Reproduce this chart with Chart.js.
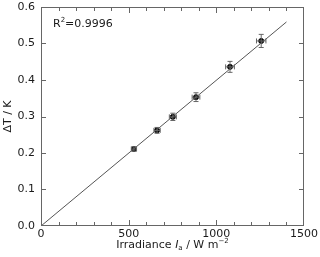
<!DOCTYPE html>
<html>
<head>
<meta charset="utf-8">
<script src="https://cdn.jsdelivr.net/npm/chart.js@4"></script>
<style>
  body { margin: 0; background: #fff; }
  #wrap { width: 320px; height: 257px; }
</style>
</head>
<body>
<div id="wrap"><canvas id="myChart"></canvas></div>
<script>
// measured points
const irradiance = [530, 662, 752, 884, 1078, 1256];
const deltaT = [0.211, 0.262, 0.299, 0.353, 0.436, 0.507];
const xErr = [15, 18, 20, 22, 25, 27];
const yErr = [0.006, 0.008, 0.010, 0.012, 0.015, 0.018];

// linear fit through origin
const fitX = [0, 1400];
const fitY = [0, 0.559];

const xTicks = [0, 500, 1000, 1500];
const yTicks = [0.0, 0.1, 0.2, 0.3, 0.4, 0.5, 0.6];
const r2Label = 'R²=0.9996';

const FONT = '"DejaVu Sans", sans-serif';
const TXT = '#1a1a1a';
const AX = '#666666';

const points = irradiance.map((x, i) => ({ x: x, y: deltaT[i] }));
const fitLine = fitX.map((x, i) => ({ x: x, y: fitY[i] }));

const errorBars = {
  id: 'errorBars',
  afterDatasetsDraw(chart) {
    const ctx = chart.ctx, xs = chart.scales.x, ys = chart.scales.y;
    ctx.save();
    ctx.strokeStyle = '#666';
    ctx.lineWidth = 1;
    points.forEach((p, i) => {
      const px = xs.getPixelForValue(p.x), py = ys.getPixelForValue(p.y);
      const x1 = xs.getPixelForValue(p.x - xErr[i]), x2 = xs.getPixelForValue(p.x + xErr[i]);
      const y1 = ys.getPixelForValue(p.y - yErr[i]), y2 = ys.getPixelForValue(p.y + yErr[i]);
      ctx.beginPath();
      ctx.moveTo(x1, py); ctx.lineTo(x2, py);
      ctx.moveTo(x1, py - 2.5); ctx.lineTo(x1, py + 2.5);
      ctx.moveTo(x2, py - 2.5); ctx.lineTo(x2, py + 2.5);
      ctx.moveTo(px, y1); ctx.lineTo(px, y2);
      ctx.moveTo(px - 2.5, y1); ctx.lineTo(px + 2.5, y1);
      ctx.moveTo(px - 2.5, y2); ctx.lineTo(px + 2.5, y2);
      ctx.stroke();
    });
    ctx.restore();
  }
};

const frame = {
  id: 'frame',
  afterDraw(chart) {
    const ctx = chart.ctx, a = chart.chartArea;
    const xs = chart.scales.x, ys = chart.scales.y;
    const L = Math.round(a.left), R = Math.round(a.right) - 1;
    const T = Math.round(a.top), B = Math.round(a.bottom) - 1;
    ctx.save();
    // box and inward ticks
    ctx.fillStyle = AX;
    ctx.fillRect(L, T, R - L + 1, 1);
    ctx.fillRect(L, B, R - L + 1, 1);
    ctx.fillRect(L, T, 1, B - T + 1);
    ctx.fillRect(R, T, 1, B - T + 1);
    for (let v = 0; v <= 1500; v += 100) {
      const px = Math.min(Math.round(xs.getPixelForValue(v)), R);
      const len = v % 500 === 0 ? 5 : 3;
      ctx.fillRect(px, B - len, 1, len);
      ctx.fillRect(px, T, 1, len + 1);
    }
    yTicks.forEach(v => {
      const py = Math.min(Math.round(ys.getPixelForValue(v)), B);
      ctx.fillRect(L, py, 5, 1);
      ctx.fillRect(R - 4, py, 5, 1);
    });

    ctx.fillStyle = TXT;
    ctx.font = '11px ' + FONT;
    ctx.textBaseline = 'middle';
    ctx.textAlign = 'left';
    // R^2 note
    ctx.fillText('R', a.left + 12, a.top + 17);
    let w = ctx.measureText('R').width;
    ctx.font = '7px ' + FONT;
    ctx.fillText('2', a.left + 12 + w, a.top + 13);
    let w2 = ctx.measureText('2').width;
    ctx.font = '11px ' + FONT;
    ctx.fillText(r2Label.slice(2), a.left + 12 + w + w2, a.top + 17);

    // x title with italic symbol, subscript and superscript
    const parts = [
      { t: 'Irradiance ', f: '11px ' + FONT, dy: 0 },
      { t: 'I', f: 'italic 11px ' + FONT, dy: 0 },
      { t: 'a', f: '7px ' + FONT, dy: 3 },
      { t: ' / W m', f: '11px ' + FONT, dy: 0 },
      { t: '\u22122', f: '7px ' + FONT, dy: -4 }
    ];
    let total = 0;
    parts.forEach(p => { ctx.font = p.f; p.w = ctx.measureText(p.t).width; total += p.w; });
    let x = (a.left + a.right) / 2 - total / 2;
    const ty = 245;
    parts.forEach(p => { ctx.font = p.f; ctx.fillText(p.t, x, ty + p.dy); x += p.w; });

    // y title
    ctx.font = '11px ' + FONT;
    ctx.textAlign = 'center';
    ctx.translate(8, (a.top + a.bottom) / 2);
    ctx.rotate(-Math.PI / 2);
    ctx.fillText('\u0394T / K', 0, 0);
    ctx.restore();
  }
};

const noPad = s => { s.paddingTop = 0; s.paddingBottom = 0; s.paddingLeft = 0; s.paddingRight = 0; };

const data = {
  datasets: [
    {
      label: 'fit',
      type: 'line',
      data: fitLine,
      borderColor: '#555',
      borderWidth: 1,
      pointRadius: 0,
      fill: false
    },
    {
      label: 'data',
      data: points,
      backgroundColor: '#000',
      borderColor: '#000',
      pointRadius: 2.5,
      pointHoverRadius: 2.5
    }
  ]
};

const config = {
  type: 'scatter',
  data: data,
  options: {
    responsive: true,
    maintainAspectRatio: false,
    animation: false,
    layout: { padding: { top: 7, right: 16, left: 0, bottom: 0 } },
    plugins: { legend: { display: false }, tooltip: { enabled: false } },
    scales: {
      x: {
        type: 'linear',
        min: 0, max: 1500,
        afterBuildTicks: s => { s.ticks = xTicks.map(v => ({ value: v })); },
        afterFit: s => { s.height = 31; noPad(s); },
        grid: { display: false, drawTicks: false },
        border: { display: false },
        ticks: { color: TXT, font: { family: FONT, size: 11 }, padding: 2, maxRotation: 0, callback: v => String(v) }
      },
      y: {
        type: 'linear',
        min: 0, max: 0.6,
        afterBuildTicks: s => { s.ticks = yTicks.map(v => ({ value: v })); },
        afterFit: s => { s.width = 41; noPad(s); },
        grid: { display: false, drawTicks: false },
        border: { display: false },
        ticks: { color: TXT, font: { family: FONT, size: 11 }, padding: 6, callback: v => v.toFixed(1) }
      }
    }
  },
  plugins: [errorBars, frame]
};

const myChart = new Chart(document.getElementById('myChart'), config);
</script>
</body>
</html>
